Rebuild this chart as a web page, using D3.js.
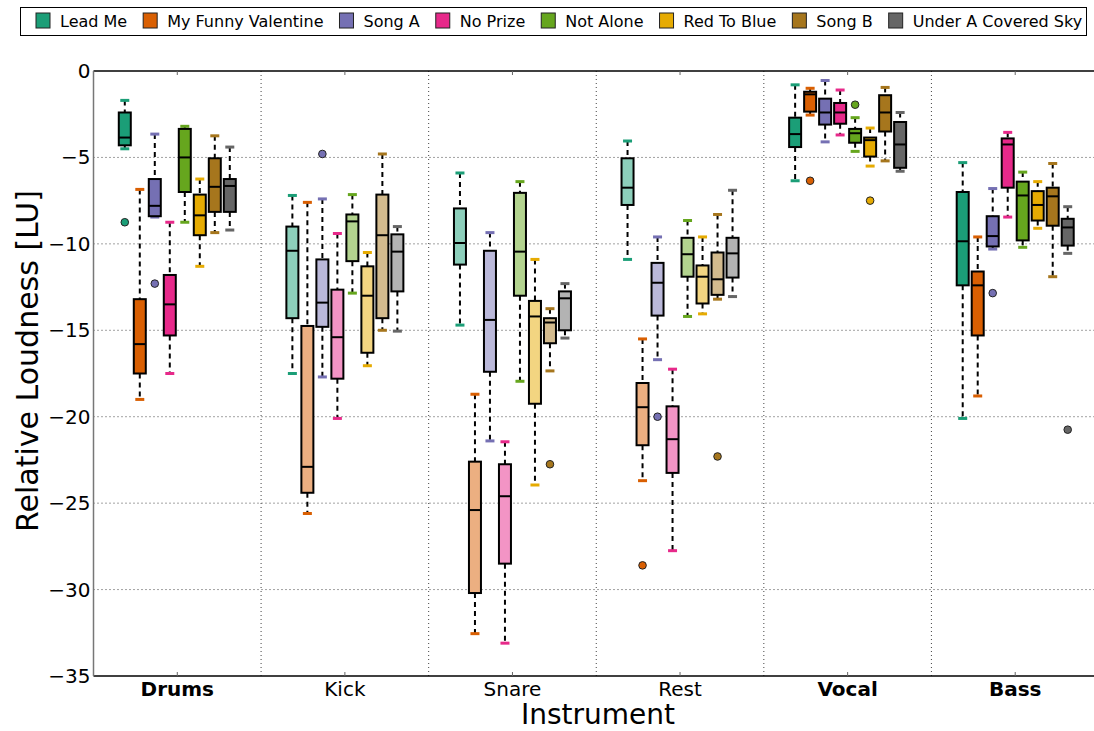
<!DOCTYPE html>
<html>
<head>
<meta charset="utf-8">
<script src="https://cdn.jsdelivr.net/npm/d3@7"></script>
<style>
body { margin: 0; background: #fff; }
text { font-family: "DejaVu Sans", sans-serif; }
</style>
</head>
<body>
<script>
var songs = ["Lead Me", "My Funny Valentine", "Song A", "No Prize", "Not Alone", "Red To Blue", "Song B", "Under A Covered Sky"];
var colors = ["#1b9e77", "#d95f02", "#7570b3", "#e7298a", "#66a61e", "#e6ab02", "#a6761d", "#666666"];
var instruments = ["Drums", "Kick", "Snare", "Rest", "Vocal", "Bass"];
var boldInstruments = ["Drums", "Vocal", "Bass"];
var yTicks = [0, -5, -10, -15, -20, -25, -30, -35];

// [whisker low, q1, median, q3, whisker high] per song
var drums = [
  [-4.5, -4.3, -3.85, -2.4, -1.7],
  [-19.0, -17.5, -15.8, -13.2, -6.85],
  [-8.45, -8.4, -7.8, -6.25, -3.65],
  [-17.5, -15.3, -13.5, -11.8, -8.75],
  [-8.75, -7.0, -5.0, -3.35, -3.2],
  [-11.3, -9.5, -8.35, -7.15, -6.25],
  [-9.35, -8.15, -6.7, -5.05, -3.75],
  [-9.2, -8.15, -6.65, -6.25, -4.4]
];
var kick = [
  [-17.5, -14.3, -10.4, -9.0, -7.2],
  [-25.6, -24.4, -22.9, -14.75, -7.6],
  [-17.7, -14.8, -13.4, -10.9, -7.4],
  [-20.1, -17.8, -15.4, -12.65, -9.4],
  [-12.85, -11.0, -8.7, -8.3, -7.15],
  [-17.05, -16.3, -13.0, -11.3, -10.5],
  [-15.0, -14.3, -9.5, -7.15, -4.8],
  [-15.05, -12.75, -10.45, -9.45, -9.0]
];
var snare = [
  [-14.7, -11.2, -9.95, -7.95, -5.9],
  [-32.55, -30.2, -25.4, -22.6, -18.7],
  [-21.4, -17.4, -14.4, -10.4, -9.35],
  [-33.1, -28.5, -24.6, -22.75, -21.45],
  [-17.95, -13.0, -10.45, -7.05, -6.4],
  [-23.95, -19.25, -14.2, -13.3, -10.9],
  [-17.35, -15.75, -14.55, -14.3, -13.75],
  [-15.45, -15.0, -13.15, -12.75, -12.3]
];
var rest = [
  [-10.9, -7.75, -6.75, -5.05, -4.05],
  [-23.7, -21.65, -19.45, -18.05, -15.5],
  [-16.7, -14.15, -12.25, -11.1, -9.6],
  [-27.75, -23.25, -21.3, -19.4, -17.25],
  [-14.2, -11.9, -10.6, -9.65, -8.65],
  [-14.05, -13.45, -11.9, -11.25, -9.6],
  [-13.2, -12.95, -12.05, -10.5, -8.3],
  [-13.05, -11.95, -10.55, -9.65, -6.9]
];
var vocal = [
  [-6.35, -4.4, -3.65, -2.7, -0.8],
  [-2.55, -2.35, -1.35, -1.2, -1.0],
  [-4.1, -3.1, -2.4, -1.6, -0.55],
  [-3.7, -3.05, -2.4, -1.85, -1.1],
  [-4.65, -4.15, -3.6, -3.35, -2.7],
  [-5.5, -4.95, -4.0, -3.85, -3.3],
  [-5.2, -3.5, -2.4, -1.4, -0.95],
  [-5.8, -5.6, -4.25, -2.95, -2.4]
];
var bass = [
  [-20.1, -12.4, -9.85, -7.0, -5.3],
  [-18.8, -15.3, -12.4, -11.6, -9.6],
  [-10.3, -10.15, -9.55, -8.4, -6.8],
  [-8.45, -6.75, -4.25, -3.9, -3.55],
  [-10.2, -9.8, -7.2, -6.4, -5.85],
  [-9.1, -8.65, -7.75, -6.95, -6.4],
  [-11.9, -8.95, -7.25, -6.75, -5.35],
  [-10.55, -10.1, -9.05, -8.55, -7.85]
];
// [instrument, song, value]
var outliers = [
  ["Drums", "Lead Me", -8.75], ["Drums", "Song A", -12.3],
  ["Kick", "Song A", -4.8],
  ["Snare", "Song B", -22.75],
  ["Rest", "My Funny Valentine", -28.6], ["Rest", "Song A", -20.0], ["Rest", "Song B", -22.3],
  ["Vocal", "My Funny Valentine", -6.35], ["Vocal", "Not Alone", -1.95], ["Vocal", "Red To Blue", -7.5],
  ["Bass", "Song A", -12.85], ["Bass", "Under A Covered Sky", -20.75]
];
var stats = {Drums: drums, Kick: kick, Snare: snare, Rest: rest, Vocal: vocal, Bass: bass};

var width = 1094, height = 731;
var mLeft = 93.5, mRight = 1099, mTop = 71, mBottom = 676;

var svg = d3.select("body").append("svg")
  .attr("width", width)
  .attr("height", height);

var x = d3.scaleBand().domain(instruments).range([mLeft, mRight]);
var xs = d3.scaleBand().domain(songs).range([-60, 60]);
var y = d3.scaleLinear().domain([-35, 0]).range([mBottom, mTop]);
var color = d3.scaleOrdinal().domain(songs).range(colors);

function fillFor(inst, song) {
  var c = color(song);
  if (boldInstruments.indexOf(inst) < 0) return d3.interpolateRgb(c, "#fff")(0.5);
  return c;
}
function boxX(inst, song) {
  return x(inst) + x.bandwidth() / 2 + xs(song) + xs.bandwidth() / 2;
}

var plot = svg.append("g");

// grid
plot.selectAll("line.hgrid").data(yTicks.filter(function (d) { return d != 0 && d != -35; }))
  .enter().append("line")
  .attr("x1", mLeft).attr("x2", mRight)
  .attr("y1", function (d) { return y(d); }).attr("y2", function (d) { return y(d); })
  .attr("stroke", "#444").attr("stroke-width", 1).attr("stroke-dasharray", "1,3");
plot.selectAll("line.vgrid").data(instruments.slice(1))
  .enter().append("line")
  .attr("x1", function (d) { return x(d); }).attr("x2", function (d) { return x(d); })
  .attr("y1", mTop).attr("y2", mBottom)
  .attr("stroke", "#444").attr("stroke-width", 1).attr("stroke-dasharray", "1,3");

// boxes
var items = [];
instruments.forEach(function (inst) {
  stats[inst].forEach(function (s, i) {
    items.push({inst: inst, song: songs[i], s: s, cx: boxX(inst, songs[i])});
  });
});

var g = plot.selectAll("g.box").data(items).enter().append("g");
var bw = 12;

g.append("line")
  .attr("x1", function (d) { return d.cx; }).attr("x2", function (d) { return d.cx; })
  .attr("y1", function (d) { return y(d.s[4]); }).attr("y2", function (d) { return y(d.s[3]); })
  .attr("stroke", "#000").attr("stroke-width", 2).attr("stroke-dasharray", "5,4");
g.append("line")
  .attr("x1", function (d) { return d.cx; }).attr("x2", function (d) { return d.cx; })
  .attr("y1", function (d) { return y(d.s[1]); }).attr("y2", function (d) { return y(d.s[0]); })
  .attr("stroke", "#000").attr("stroke-width", 2).attr("stroke-dasharray", "5,4");

g.selectAll("line.cap").data(function (d) { return [[d, d.s[0]], [d, d.s[4]]]; })
  .enter().append("line")
  .attr("x1", function (d) { return d[0].cx - 4.5; }).attr("x2", function (d) { return d[0].cx + 4.5; })
  .attr("y1", function (d) { return y(d[1]); }).attr("y2", function (d) { return y(d[1]); })
  .attr("stroke", function (d) { return color(d[0].song); }).attr("stroke-width", 3);

g.append("rect")
  .attr("x", function (d) { return d.cx - bw / 2; })
  .attr("y", function (d) { return y(d.s[3]); })
  .attr("width", bw)
  .attr("height", function (d) { return y(d.s[1]) - y(d.s[3]); })
  .attr("fill", function (d) { return fillFor(d.inst, d.song); })
  .attr("stroke", "#000").attr("stroke-width", 2);
g.append("line")
  .attr("x1", function (d) { return d.cx - bw / 2; }).attr("x2", function (d) { return d.cx + bw / 2; })
  .attr("y1", function (d) { return y(d.s[2]); }).attr("y2", function (d) { return y(d.s[2]); })
  .attr("stroke", "#000").attr("stroke-width", 2);

plot.selectAll("circle.out").data(outliers).enter().append("circle")
  .attr("cx", function (d) { return boxX(d[0], d[1]); })
  .attr("cy", function (d) { return y(d[2]); })
  .attr("r", 3.8)
  .attr("fill", function (d) { return color(d[1]); })
  .attr("stroke", "#222").attr("stroke-width", 1);

// spines
svg.append("line").attr("x1", mLeft).attr("x2", mRight).attr("y1", mTop).attr("y2", mTop).attr("stroke", "#000").attr("stroke-width", 1.5);
svg.append("line").attr("x1", mLeft).attr("x2", mRight).attr("y1", mBottom).attr("y2", mBottom).attr("stroke", "#000").attr("stroke-width", 1.5);
svg.append("line").attr("x1", mLeft).attr("x2", mLeft).attr("y1", mTop).attr("y2", mBottom).attr("stroke", "#777").attr("stroke-width", 1.5);

// category ticks top & bottom
instruments.forEach(function (inst) {
  var cx = x(inst) + x.bandwidth() / 2;
  svg.append("line").attr("x1", cx).attr("x2", cx).attr("y1", mTop).attr("y2", mTop + 4).attr("stroke", "#666");
  svg.append("line").attr("x1", cx).attr("x2", cx).attr("y1", mBottom).attr("y2", mBottom - 4).attr("stroke", "#666");
});

// axes labels
svg.selectAll("text.ytick").data(yTicks).enter().append("text")
  .attr("x", mLeft - 3).attr("y", function (d) { return y(d) + 7; })
  .attr("text-anchor", "end").attr("font-size", 20)
  .text(function (d) { return d < 0 ? "\u2212" + Math.abs(d) : d; });

svg.selectAll("text.xtick").data(instruments).enter().append("text")
  .attr("x", function (d) { return x(d) + x.bandwidth() / 2; }).attr("y", 696)
  .attr("text-anchor", "middle").attr("font-size", 20)
  .attr("font-weight", function (d) { return boldInstruments.indexOf(d) >= 0 ? "bold" : "normal"; })
  .text(function (d) { return d; });

svg.append("text").attr("x", 598).attr("y", 724).attr("text-anchor", "middle").attr("font-size", 28).text("Instrument");
svg.append("text").attr("transform", "translate(38,361) rotate(-90)").attr("text-anchor", "middle").attr("font-size", 30).text("Relative Loudness [LU]");

// legend
var leg = svg.append("g");
leg.append("rect").attr("x", 20.5).attr("y", 7.5).attr("width", 1066).attr("height", 28)
  .attr("fill", "#fff").attr("stroke", "#000").attr("stroke-width", 1);
var lx = 36;
songs.forEach(function (s) {
  leg.append("rect").attr("x", lx).attr("y", 13).attr("width", 14).attr("height", 15)
    .attr("fill", color(s)).attr("stroke", "#222").attr("stroke-width", 1);
  var t = leg.append("text").attr("x", lx + 24).attr("y", 27).attr("font-size", 16).text(s);
  lx = lx + 24 + t.node().getComputedTextLength() + 16;
});
</script>
</body>
</html>
